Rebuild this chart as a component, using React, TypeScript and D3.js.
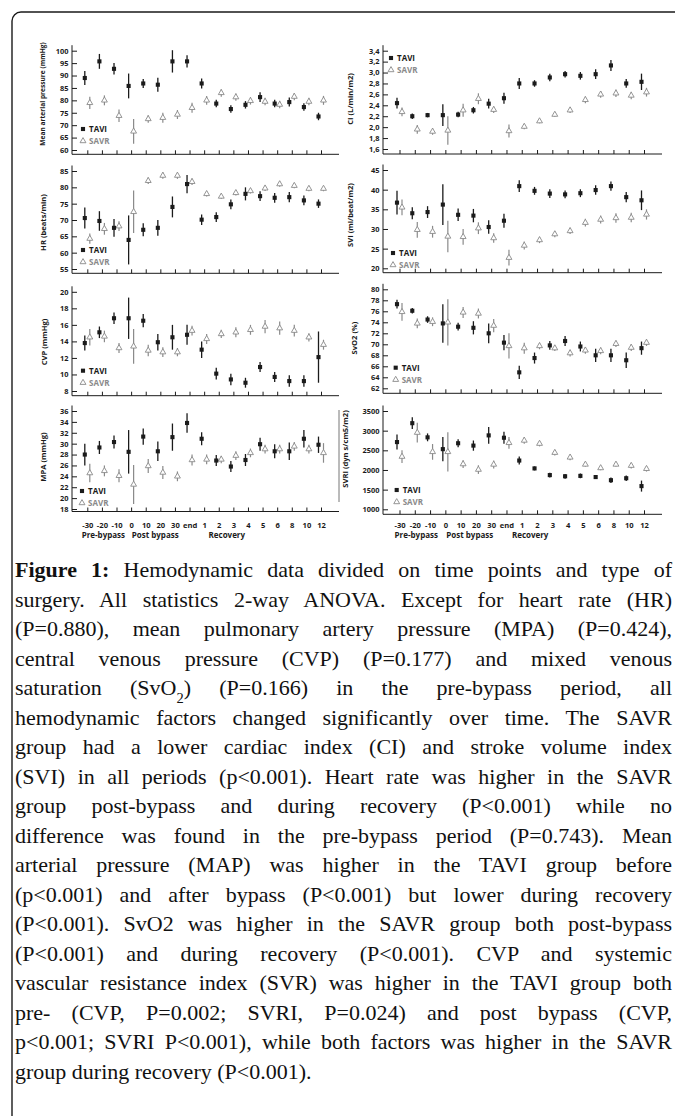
import React, { useEffect, useRef } from 'react';
import * as d3 from 'd3';

// time points: minutes pre/post bypass, hours of recovery
const timeLabels = ['-30', '-20', '-10', '0', '10', '20', '30', 'end', '1', '2', '3', '4', '5', '6', '8', '10', '12'];
const periodLabels = ['Pre-bypass', 'Post bypass', 'Recovery'];

// mean arterial pressure
const mapTicks = [60, 65, 70, 75, 80, 85, 90, 95, 100];
const mapTavi = [89, 95.7, 92.7, 85.8, 86.8, 86.3, 95.7, 95.7, 86.8, 78.7, 76.5, 78.2, 81.3, 78.7, 79.3, 77.3, 73.5];
const mapTaviErr = [2.8, 3, 2.3, 5, 1.8, 2.8, 4.5, 2.5, 2, 1.5, 1.5, 1.5, 2, 1.5, 1.8, 1.5, 1.5];
const mapSavr = [79, 80, 73.8, 67.5, 72.5, 73, 74.3, 77, 80, 83, 81.3, 79.8, 79.5, 78.3, 81.5, 79.5, 80];
const mapSavrErr = [2.5, 2, 2.5, 5, 1.5, 2, 1.8, 2, 1.8, 1.5, 1.5, 1.5, 1.5, 1.5, 1.5, 1.5, 1.8];

// cardiac index
const ciTicks = [1.6, 1.8, 2.0, 2.2, 2.4, 2.6, 2.8, 3.0, 3.2, 3.4];
const ciTavi = [2.44, 2.2, 2.22, 2.22, 2.23, 2.31, 2.43, 2.53, 2.8, 2.8, 2.91, 2.97, 2.94, 2.97, 3.13, 2.8, 2.83];
const ciTaviErr = [0.1, 0.05, 0.04, 0.2, 0.05, 0.06, 0.09, 0.1, 0.1, 0.06, 0.07, 0.06, 0.07, 0.09, 0.1, 0.08, 0.15];
const ciSavr = [2.28, 1.96, 1.92, 1.94, 2.31, 2.52, 2.32, 1.93, 2.01, 2.11, 2.23, 2.31, 2.5, 2.6, 2.62, 2.58, 2.64];
const ciSavrErr = [0.08, 0.08, 0.06, 0.26, 0.12, 0.1, 0.06, 0.12, 0.05, 0.04, 0.04, 0.05, 0.06, 0.06, 0.07, 0.07, 0.08];

// heart rate
const hrTicks = [55, 60, 65, 70, 75, 80, 85];
const hrTavi = [70.6, 69.7, 67.6, 63.9, 67, 67.6, 74, 81, 70.1, 70.9, 74.8, 78, 77.3, 76.8, 77, 76, 75];
const hrTaviErr = [3.2, 3, 2.7, 7.5, 2, 2.4, 3.2, 2.8, 1.6, 1.5, 1.5, 2, 1.5, 1.5, 1.6, 1.5, 1.3];
const hrSavr = [64.3, 67.3, 68.1, 72.5, 82, 83.6, 83.6, 81.7, 78, 77.2, 78.3, 78.9, 79.7, 81, 80.5, 79.6, 79.6];
const hrSavrErr = [1.6, 1.8, 1.5, 6.5, 1, 1, 1, 1, 0.8, 0.8, 0.8, 0.8, 0.8, 0.8, 0.8, 0.8, 0.8];

// stroke volume index
const sviTicks = [20, 25, 30, 35, 40, 45];
const sviTavi = [36.7, 34, 34.3, 36.2, 33.6, 33.4, 30.5, 32.1, 40.9, 39.7, 39, 38.8, 39.1, 39.9, 40.9, 38.1, 37.3];
const sviTaviErr = [3, 1.5, 1.5, 5.2, 1.6, 1.7, 1.7, 1.8, 1.5, 1, 1.1, 1, 1, 1.2, 1.2, 1.3, 2.5];
const sviSavr = [35.5, 29.8, 29.3, 28.1, 28, 30.2, 27.7, 22.7, 25.8, 27.2, 28.7, 29.5, 31.6, 32.4, 32.8, 32.9, 33.7];
const sviSavrErr = [2, 2, 1.5, 4, 2, 1.5, 1.2, 2, 1, 0.8, 0.8, 0.8, 1, 1, 1.2, 1.2, 1.3];

// central venous pressure
const cvpTicks = [8, 10, 12, 14, 16, 18, 20];
const cvpTavi = [13.8, 15.1, 16.8, 16.8, 16.5, 13.9, 14.5, 14.8, 13, 10.1, 9.4, 9, 10.9, 9.7, 9.2, 9.2, 12.1];
const cvpTaviErr = [0.9, 0.7, 0.7, 2.5, 0.8, 1, 1.5, 1.2, 1, 0.7, 0.7, 0.6, 0.6, 0.6, 0.7, 0.7, 3.1];
const cvpSavr = [14.5, 14.6, 13.2, 13.4, 12.9, 12.7, 12.7, 15.3, 14.3, 14.9, 15.1, 15.4, 15.8, 15.6, 15.3, 14.5, 13.6];
const cvpSavrErr = [1, 0.7, 0.6, 2.1, 0.7, 0.6, 0.5, 0.6, 0.6, 0.5, 0.6, 0.6, 0.8, 0.8, 0.7, 0.5, 0.6];

// mixed venous saturation
const svo2Ticks = [62, 64, 66, 68, 70, 72, 74, 76, 78, 80];
const svo2Tavi = [77.3, 76.1, 74.5, 73.8, 73.2, 73, 72, 70.3, 64.9, 67.5, 69.8, 70.6, 69.6, 68, 68, 67.1, 69.3];
const svo2TaviErr = [0.8, 0.5, 0.6, 3.5, 0.7, 1.2, 1.8, 1.4, 1.2, 1, 0.8, 0.9, 0.9, 1.2, 1.2, 1.4, 1.2];
const svo2Savr = [75.9, 73.8, 74.1, 74, 75.8, 75.6, 73.4, 69.7, 69.3, 69.7, 69.3, 68.4, 68.9, 68.8, 70.1, 69.4, 70.3];
const svo2SavrErr = [1.6, 0.9, 0.8, 4.2, 1, 0.9, 1.2, 2.3, 1, 0.6, 0.5, 0.6, 0.6, 0.6, 0.6, 0.6, 0.6];

// mean pulmonary artery pressure
const mpaTicks = [18, 20, 22, 24, 26, 28, 30, 32, 34, 36];
const mpaTavi = [28, 29.3, 30.3, 28.5, 31.3, 28.6, 31.2, 33.8, 30.9, 26.9, 25.8, 27, 29.9, 28.6, 28.6, 30.9, 29.8];
const mpaTaviErr = [2, 1.2, 1.2, 4, 1.5, 1.8, 2.5, 1.8, 1.2, 1, 1, 1.1, 1.2, 1.3, 1.6, 1.6, 1.5];
const mpaSavr = [24.6, 25, 24.1, 22.5, 25.9, 24.7, 24, 27, 27.1, 27.1, 27.8, 28.3, 29, 29, 29.5, 29, 28.3];
const mpaSavrErr = [1.7, 1, 1.2, 3.6, 1.3, 1.2, 0.9, 1, 0.9, 0.7, 0.8, 0.8, 0.8, 0.8, 0.8, 0.8, 1.8];

// systemic vascular resistance index
const svriTicks = [1000, 1500, 2000, 2500, 3000, 3500];
const svriTavi = [2710, 3190, 2830, 2530, 2680, 2620, 2880, 2820, 2240, 2040, 1870, 1840, 1850, 1820, 1740, 1790, 1590];
const svriTaviErr = [190, 150, 100, 310, 100, 130, 210, 150, 100, 50, 60, 60, 60, 50, 70, 70, 140];
const svriSavr = [2340, 2950, 2460, 2460, 2150, 2010, 2140, 2690, 2750, 2670, 2440, 2320, 2140, 2050, 2140, 2110, 2030];
const svriSavrErr = [160, 250, 200, 500, 100, 110, 100, 150, 80, 70, 70, 70, 60, 60, 60, 70, 70];

const captionLines = [
  'Figure 1: Hemodynamic data divided on time points and type of',
  'surgery. All statistics 2-way ANOVA. Except for heart rate (HR)',
  '(P=0.880), mean pulmonary artery pressure (MPA) (P=0.424),',
  'central venous pressure (CVP) (P=0.177) and mixed venous',
  'saturation (SvO_2) (P=0.166) in the pre-bypass period, all',
  'hemodynamic factors changed significantly over time. The SAVR',
  'group had a lower cardiac index (CI) and stroke volume index',
  '(SVI) in all periods (p<0.001). Heart rate was higher in the SAVR',
  'group post-bypass and during recovery (P<0.001) while no',
  'difference was found in the pre-bypass period (P=0.743). Mean',
  'arterial pressure (MAP) was higher in the TAVI group before',
  '(p<0.001) and after bypass (P<0.001) but lower during recovery',
  '(P<0.001). SvO2 was higher in the SAVR group both post-bypass',
  '(P<0.001) and during recovery (P<0.001). CVP and systemic',
  'vascular resistance index (SVR) was higher in the TAVI group both',
  'pre- (CVP, P=0.002; SVRI, P=0.024) and post bypass (CVP,',
  'p<0.001; SVRI P<0.001), while both factors was higher in the SAVR',
  'group during recovery (P<0.001).',
];

const sans = "'Open Sans', 'Noto Sans', sans-serif";
const serif = "'Liberation Serif', 'Times New Roman', serif";
const ink = '#1b1b1b';
const grey = '#8a8a8a';

// the two columns of panels
const columns = [
  { axisX: 72, xStart: 87.3, xEnd: 321, axisEnd: 339, periodAt: [1.1, 4.65, 9.55] },
  { axisX: 383, xStart: 399.5, xEnd: 644, axisEnd: 662, periodAt: [1.1, 4.6, 8.55] },
];

const commaFmt = (d) => d3.format('.1f')(d).replace('.', ',');

const panels = [
  { title: 'Mean arterial pressure (mmHg)', col: 0, ticks: mapTicks, tavi: mapTavi, taviErr: mapTaviErr, savr: mapSavr, savrErr: mapSavrErr,
    top: 50.7, bottom: 150, axisY: 154.3, titlePos: [43, 94, 6.6], legend: [83, 129] },
  { title: 'CI (L/min/m2)', col: 1, ticks: ciTicks, tavi: ciTavi, taviErr: ciTaviErr, savr: ciSavr, savrErr: ciSavrErr, format: commaFmt,
    top: 50.7, bottom: 149, axisY: 154, titlePos: [350.5, 99, 7.6], legend: [391, 58] },
  { title: 'HR (beats/min)', col: 0, ticks: hrTicks, tavi: hrTavi, taviErr: hrTaviErr, savr: hrSavr, savrErr: hrSavrErr,
    top: 171, bottom: 269, axisY: 273.3, titlePos: [43.3, 222.5, 7.6], legend: [83, 250] },
  { title: 'SVI (ml/beat/m2)', col: 1, ticks: sviTicks, tavi: sviTavi, taviErr: sviTaviErr, savr: sviSavr, savrErr: sviSavrErr,
    top: 170, bottom: 268.3, axisY: 272.7, titlePos: [350.7, 215, 7.6], legend: [393, 253] },
  { title: 'CVP (mmHg)', col: 0, ticks: cvpTicks, tavi: cvpTavi, taviErr: cvpTaviErr, savr: cvpSavr, savrErr: cvpSavrErr,
    top: 291.8, bottom: 391, axisY: 395.7, titlePos: [44.3, 342, 7.6], legend: [83, 370.7] },
  { title: 'SvO2 (%)', col: 1, ticks: svo2Ticks, tavi: svo2Tavi, taviErr: svo2TaviErr, savr: svo2Savr, savrErr: svo2SavrErr,
    top: 289.3, bottom: 388.3, axisY: 393.3, titlePos: [354, 338, 7.6], legend: [395.7, 367.7] },
  { title: 'MPA (mmHg)', col: 0, ticks: mpaTicks, tavi: mpaTavi, taviErr: mpaTaviErr, savr: mpaSavr, savrErr: mpaSavrErr,
    top: 411, bottom: 509, axisY: 511.5, titlePos: [43.3, 457, 7.6], legend: [82, 491], bottomRow: true },
  { title: 'SVRI (dyn s/cm5/m2)', col: 1, ticks: svriTicks, tavi: svriTavi, taviErr: svriTaviErr, savr: svriSavr, savrErr: svriSavrErr,
    top: 411, bottom: 509.3, axisY: 514.3, titlePos: [345, 449, 7.6], legend: [396.7, 490], bottomRow: true },
];

const squareSym = d3.symbol().type(d3.symbolSquare).size(17);
const triangleSym = d3.symbol().type(d3.symbolTriangle).size(15);

const drawPanel = (svg, p) => {
  const col = columns[p.col];
  // labels repeat ('10' is both a minute and an hour), so the scale runs on the index
  const x = d3.scalePoint().domain(d3.range(timeLabels.length)).range([col.xStart, col.xEnd]);
  const y = d3.scaleLinear()
    .domain([p.ticks[0], p.ticks[p.ticks.length - 1]])
    .range([p.bottom, p.top]);
  const g = svg.append('g');

  // y axis, ticks pointing inwards
  const ya = g.append('g')
    .attr('transform', `translate(${col.axisX},0)`)
    .call(d3.axisLeft(y).tickValues(p.ticks).tickSizeInner(-5).tickSizeOuter(0).tickPadding(3.5)
      .tickFormat(p.format || d3.format('d')));
  ya.select('.domain').remove();
  ya.selectAll('line').attr('stroke', ink);
  ya.selectAll('text').attr('font-family', sans).attr('font-weight', 700).attr('font-size', 7.4).attr('fill', ink);
  g.append('line')
    .attr('x1', col.axisX).attr('x2', col.axisX)
    .attr('y1', p.axisY).attr('y2', p.top - 5.5)
    .attr('stroke', ink);

  // x axis
  const xa = g.append('g')
    .attr('transform', `translate(0,${p.axisY})`)
    .call(d3.axisBottom(x).tickSizeInner(-4).tickSizeOuter(0)
      .tickPadding(p.bottomRow ? 525 - p.axisY - 2.8 : 0)
      .tickFormat(p.bottomRow ? (i) => timeLabels[i] : () => ''));
  xa.select('.domain').remove();
  xa.selectAll('line').attr('stroke', ink);
  xa.selectAll('text').attr('font-family', sans).attr('font-weight', 700).attr('font-size', 7.6).attr('fill', ink);
  g.append('line')
    .attr('x1', col.axisX).attr('x2', col.axisEnd)
    .attr('y1', p.axisY).attr('y2', p.axisY)
    .attr('stroke', ink);

  if (p.bottomRow) {
    periodLabels.forEach((label, i) => {
      g.append('text')
        .attr('x', col.xStart + col.periodAt[i] * x.step())
        .attr('y', 535)
        .attr('dy', '0.35em')
        .attr('text-anchor', 'middle')
        .attr('font-family', sans).attr('font-weight', 700).attr('font-size', 8)
        .attr('fill', ink)
        .text(label);
    });
  }

  // SAVR: grey open triangles, slightly right of the tick
  timeLabels.forEach((t, i) => {
    const cx = x(i) + 2.5;
    g.append('line')
      .attr('x1', cx).attr('x2', cx)
      .attr('y1', y(p.savr[i] - p.savrErr[i])).attr('y2', y(p.savr[i] + p.savrErr[i]))
      .attr('stroke', grey).attr('stroke-width', 1.2);
    g.append('path')
      .attr('d', triangleSym())
      .attr('transform', `translate(${cx},${y(p.savr[i])})`)
      .attr('fill', '#fff').attr('stroke', grey).attr('stroke-width', 0.9);
  });

  // TAVI: black squares, slightly left of the tick
  timeLabels.forEach((t, i) => {
    const cx = x(i) - 2.5;
    g.append('line')
      .attr('x1', cx).attr('x2', cx)
      .attr('y1', y(p.tavi[i] - p.taviErr[i])).attr('y2', y(p.tavi[i] + p.taviErr[i]))
      .attr('stroke', ink).attr('stroke-width', 1.3);
    g.append('path')
      .attr('d', squareSym())
      .attr('transform', `translate(${cx},${y(p.tavi[i])})`)
      .attr('fill', ink);
  });

  // legend
  const [lx, ly] = p.legend;
  g.append('path').attr('d', squareSym()).attr('transform', `translate(${lx},${ly})`).attr('fill', ink);
  g.append('path').attr('d', triangleSym()).attr('transform', `translate(${lx},${ly + 12})`)
    .attr('fill', '#fff').attr('stroke', grey).attr('stroke-width', 0.9);
  g.append('text').attr('x', lx + 6).attr('y', ly).attr('dy', '0.35em')
    .attr('font-family', sans).attr('font-weight', 700).attr('font-size', 8).attr('fill', ink).text('TAVI');
  g.append('text').attr('x', lx + 6).attr('y', ly + 12).attr('dy', '0.35em')
    .attr('font-family', sans).attr('font-weight', 700).attr('font-size', 8).attr('fill', grey).text('SAVR');

  // y title
  const [tx, ty, fs] = p.titlePos;
  g.append('text')
    .attr('transform', `translate(${tx},${ty}) rotate(-90)`)
    .attr('dy', '0.35em')
    .attr('text-anchor', 'middle')
    .attr('font-family', sans).attr('font-weight', 700).attr('font-size', fs)
    .attr('fill', ink)
    .text(p.title);
};

const drawCaption = (svg) => {
  const left = 15;
  const right = 672;
  captionLines.forEach((line, i) => {
    const text = svg.append('text')
      .attr('x', left)
      .attr('y', 577 + i * 29.5)
      .attr('font-family', serif)
      .attr('font-size', 22)
      .attr('fill', '#111');
    let rest = line;
    if (rest.startsWith('Figure 1:')) {
      text.append('tspan').attr('font-weight', 700).text('Figure 1:');
      rest = rest.slice('Figure 1:'.length);
    }
    const parts = rest.split('_2');
    parts.forEach((part, j) => {
      text.append('tspan').text(part);
      if (j < parts.length - 1) {
        text.append('tspan').attr('font-size', 14.5).attr('baseline-shift', 'sub').text('2');
      }
    });
    // justify every line but the last
    if (i < captionLines.length - 1) {
      const len = text.node().getComputedTextLength();
      const spaces = (line.match(/ /g) || []).length;
      text.style('word-spacing', `${(right - left - len) / spaces}px`);
    }
  });
};

export default function App() {
  const svgRef = useRef(null);

  useEffect(() => {
    const svg = d3.select(svgRef.current);
    svg.selectAll('*').remove();

    // frame around the figure; only its top and left edges are on the page
    svg.append('rect')
      .attr('x', 12).attr('y', 12)
      .attr('width', 720).attr('height', 1200)
      .attr('rx', 9)
      .attr('fill', 'none').attr('stroke', '#1a1a1a').attr('stroke-width', 1.4);

    // stray panel edge next to the MPA plot
    svg.append('line')
      .attr('x1', 339).attr('x2', 339).attr('y1', 410).attr('y2', 502)
      .attr('stroke', '#777').attr('stroke-width', 1);

    panels.forEach((p) => drawPanel(svg, p));
    drawCaption(svg);
  }, []);

  return (
    <svg
      ref={svgRef}
      width={675}
      height={1116}
      style={{ position: 'absolute', left: 0, top: 0, background: '#fff' }}
    />
  );
}
